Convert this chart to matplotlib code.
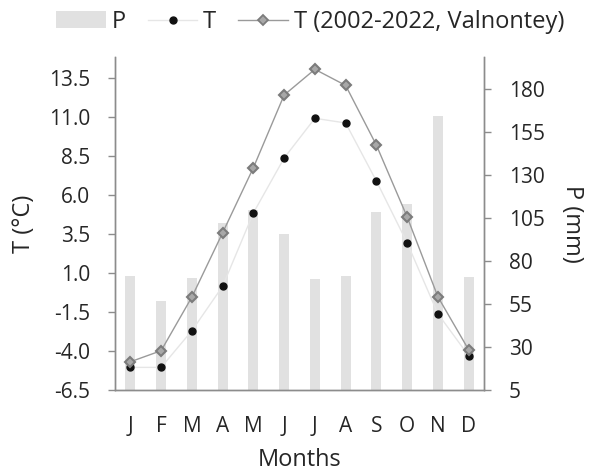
import matplotlib
matplotlib.use("Agg")
import matplotlib.pyplot as plt
from matplotlib.lines import Line2D
from matplotlib.patches import Patch

months = ["J", "F", "M", "A", "M", "J", "J", "A", "S", "O", "N", "D"]
P = [71.5, 56.9, 69.9, 102.3, 109.5, 95.7, 69.5, 71.5, 108.5, 113.1, 164.3, 70.9]
T = [-5.05, -5.05, -2.7, 0.15, 4.85, 8.37, 10.92, 10.62, 6.9, 2.94, -1.61, -4.3]
T_valn = [-4.69, -3.98, -0.54, 3.58, 7.75, 12.41, 14.06, 13.03, 9.2, 4.6, -0.52, -3.92]
t_ticks = [-6.5, -4.0, -1.5, 1.0, 3.5, 6.0, 8.5, 11.0, 13.5]
p_ticks = [5, 30, 55, 80, 105, 130, 155, 180]

plt.rcParams['font.family'] = ['Open Sans', 'DejaVu Sans']
txt = '#262626'
spine_c = '#8c8c8c'

fig = plt.figure(figsize=(5.93, 4.75), dpi=100)
ax = fig.add_axes([115/593, 1-390/475, (484-115)/593, (390-57)/475])
ax2 = ax.twinx()

x = list(range(len(months)))
ax2.bar(x, P, width=0.32, color='#e1e1e1', zorder=1)
ax2.set_ylim(5, 198.6)
ax.set_zorder(ax2.get_zorder() + 1)
ax.patch.set_visible(False)

ax.plot(x, T, color='#e6e6e6', lw=1.0, marker='o', ms=5, mfc='#111111', mec='#111111', zorder=3)
ax.plot(x, T_valn, color='#9a9a9a', lw=1.0, marker='D', ms=5.2, mfc='#a8a8a8', mec='#7c7c7c', mew=1.5, zorder=4)

ax.set_xlim(-0.5, 11.5)
ax.set_ylim(-6.5, 14.85)
ax.set_yticks(t_ticks)
ax.set_yticklabels([f"{v:.1f}" for v in t_ticks])
ax.set_xticks(x)
ax.set_xticklabels(months)
ax2.set_yticks(p_ticks)
ax2.set_yticklabels([str(v) for v in p_ticks])

for a in (ax, ax2):
    for s in a.spines.values():
        s.set_color(spine_c)
        s.set_linewidth(1.0)
    a.spines['top'].set_visible(False)
ax.tick_params(axis='y', length=5, width=1, color=spine_c, pad=13, labelsize=15, labelcolor=txt)
ax2.tick_params(axis='y', length=5, width=1, color=spine_c, pad=13, labelsize=15, labelcolor=txt)
ax.tick_params(axis='x', length=0, pad=19, labelsize=15, labelcolor=txt)

ax.set_ylabel("T (°C)", fontsize=17, color=txt, labelpad=9)
ax2.set_ylabel("P (mm)", fontsize=17, color=txt, rotation=270, labelpad=28)
ax.set_xlabel("Months", fontsize=17, color=txt, labelpad=8)

handles = [
    Patch(facecolor='#e1e1e1', edgecolor='none'),
    Line2D([0], [0], color='#e6e6e6', lw=1, marker='o', ms=5, mfc='#111111', mec='#111111'),
    Line2D([0], [0], color='#9a9a9a', lw=1, marker='D', ms=5, mfc='#a8a8a8', mec='#7c7c7c', mew=1.3),
]
fig.legend(handles, ["P", "T", "T (2002-2022, Valnontey)"], loc='center', bbox_to_anchor=(0.523, 1-22/475),
           ncol=3, frameon=False, fontsize=17, handlelength=2.1, columnspacing=0.93, handletextpad=0.25,
           labelcolor=txt)

fig.savefig("out.png", dpi=100)
